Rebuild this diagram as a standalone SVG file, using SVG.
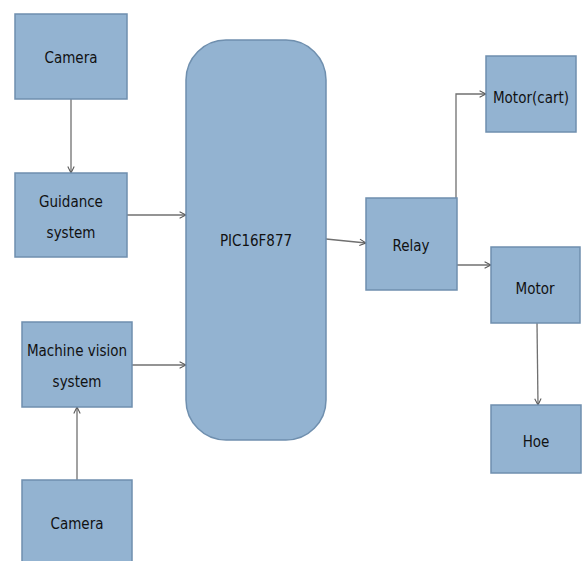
<svg xmlns="http://www.w3.org/2000/svg" width="582" height="561" viewBox="0 0 582 561">
<style>
.box{fill:#93b3d1;stroke:#6f8fae;stroke-width:1.5}
.t{font-family:"DejaVu Sans Condensed","Liberation Sans",sans-serif;font-size:15px;fill:#111;text-anchor:middle}
.c{fill:none;stroke:#707070;stroke-width:1.3}
</style>
<defs>
<marker id="a" viewBox="0 0 10 10" refX="9" refY="5" markerWidth="8" markerHeight="8" orient="auto" markerUnits="userSpaceOnUse">
<path d="M1,1 L9,5 L1,9" fill="none" stroke="#555" stroke-width="1.3"/>
</marker>
</defs>
<rect width="582" height="561" fill="#fff"/>
<g id="connectors">
<line class="c" x1="71" y1="99" x2="71" y2="173" marker-end="url(#a)"/>
<line class="c" x1="127" y1="215" x2="186" y2="215" marker-end="url(#a)"/>
<line class="c" x1="132" y1="365" x2="186" y2="365" marker-end="url(#a)"/>
<line class="c" x1="77" y1="480" x2="77" y2="407" marker-end="url(#a)"/>
<line class="c" x1="326" y1="239" x2="366" y2="243" marker-end="url(#a)"/>
<polyline class="c" points="456,214 456,94 486,94" marker-end="url(#a)"/>
<line class="c" x1="457" y1="265" x2="491" y2="265" marker-end="url(#a)"/>
<line class="c" x1="537" y1="323" x2="538" y2="405" marker-end="url(#a)"/>
</g>
<g id="camera1"><rect class="box" x="15" y="14" width="112" height="85"/><text class="t" x="71" y="63">Camera</text></g>
<g id="guidance"><rect class="box" x="15" y="173" width="112" height="84"/><text class="t" x="71" y="207">Guidance</text><text class="t" x="71" y="238">system</text></g>
<g id="pic"><rect class="box" x="186" y="40" width="140" height="400" rx="40" ry="40"/><text class="t" x="256" y="246">PIC16F877</text></g>
<g id="machine"><rect class="box" x="22" y="322" width="110" height="85"/><text class="t" x="77" y="356">Machine vision</text><text class="t" x="77" y="387">system</text></g>
<g id="camera2"><rect class="box" x="22" y="480" width="110" height="90"/><text class="t" x="77" y="529">Camera</text></g>
<g id="relay"><rect class="box" x="366" y="198" width="91" height="92"/><text class="t" x="411" y="251">Relay</text></g>
<g id="motorcart"><rect class="box" x="486" y="56" width="90" height="76"/><text class="t" x="531" y="103">Motor(cart)</text></g>
<g id="motor"><rect class="box" x="491" y="247" width="89" height="76"/><text class="t" x="535" y="294">Motor</text></g>
<g id="hoe"><rect class="box" x="491" y="405" width="90" height="68"/><text class="t" x="536" y="447">Hoe</text></g>
</svg>
